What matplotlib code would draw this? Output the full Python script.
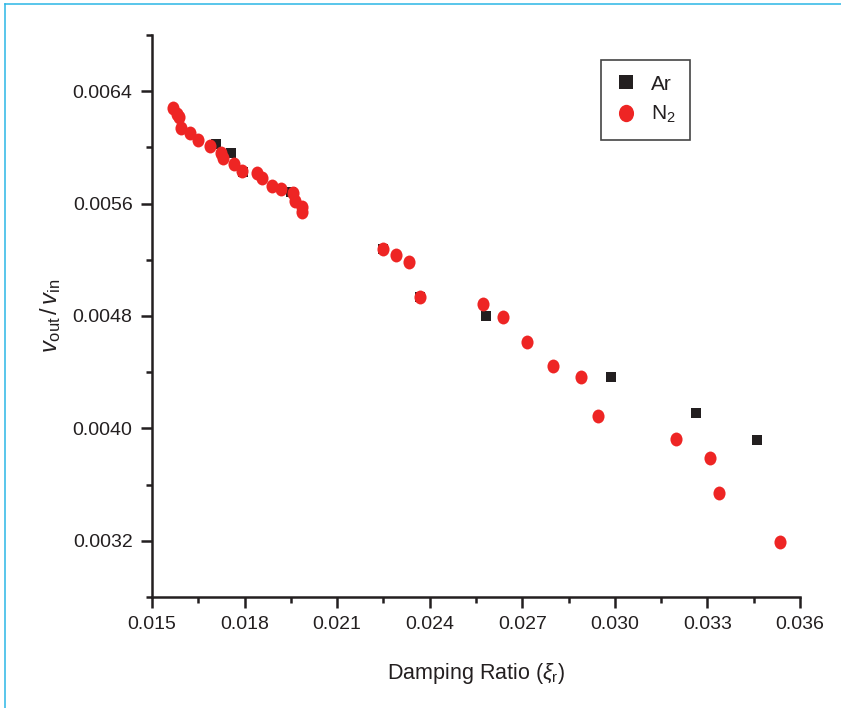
import matplotlib
matplotlib.use('Agg')
import matplotlib.pyplot as plt
from matplotlib.lines import Line2D
from matplotlib.path import Path
from matplotlib.transforms import Affine2D
from matplotlib.ticker import MultipleLocator, FormatStrFormatter

plt.rcParams['font.family'] = ['Liberation Sans', 'DejaVu Sans']
plt.rcParams['mathtext.fontset'] = 'custom'
plt.rcParams['mathtext.rm'] = 'Liberation Sans'
plt.rcParams['mathtext.it'] = 'Liberation Sans:italic'

# damping ratio vs output/input voltage ratio
ar_xi = [0.01706, 0.01757, 0.01795, 0.01951, 0.02247, 0.02368,
         0.02584, 0.02986, 0.03263, 0.03461]
ar_v = [0.006021, 0.005957, 0.005825, 0.005684, 0.005274, 0.004938,
        0.004800, 0.004364, 0.004108, 0.003916]

n2_xi = [0.01567, 0.01580, 0.01589, 0.01595, 0.01624, 0.01649, 0.01689,
         0.01724, 0.01730, 0.01765, 0.01793, 0.01840, 0.01856, 0.01889,
         0.01917, 0.01957, 0.01962, 0.01986, 0.01986, 0.02247, 0.02290,
         0.02332, 0.02368, 0.02573, 0.02636, 0.02716, 0.02798, 0.02891,
         0.02944, 0.03198, 0.03307, 0.03336, 0.03536]
n2_v = [0.006277, 0.006241, 0.006217, 0.006139, 0.006099, 0.006051,
        0.006011, 0.005957, 0.005925, 0.005881, 0.005833, 0.005819,
        0.005779, 0.005726, 0.005703, 0.005672, 0.005620, 0.005573,
        0.005537, 0.005274, 0.005233, 0.005186, 0.004938, 0.004883,
        0.004790, 0.004613, 0.004446, 0.004366, 0.004091, 0.003927,
        0.003788, 0.003539, 0.003195]

ink = '#231F20'
red = '#EE2524'

# slightly tall dot marker
dot = Affine2D().scale(0.87, 1.0).transform_path(Path.unit_circle())

fig = plt.figure(figsize=(8.41, 7.08), dpi=100)
ax = fig.add_axes([152/841, 111/708, 648/841, 562/708])

ax.plot(ar_xi, ar_v, 's', color=ink, markersize=7.8, markeredgewidth=0,
        label='Ar', zorder=2)
ax.plot(n2_xi, n2_v, marker=dot, linestyle='none', color=red,
        markersize=10, markeredgewidth=0, label='N$_2$', zorder=3)

ax.set_xlim(0.015, 0.036)
ax.set_ylim(0.0028, 0.0068)
ax.xaxis.set_major_locator(MultipleLocator(0.003))
ax.xaxis.set_minor_locator(MultipleLocator(0.0015))
ax.yaxis.set_major_locator(MultipleLocator(0.0008))
ax.yaxis.set_minor_locator(MultipleLocator(0.0004))
ax.xaxis.set_major_formatter(FormatStrFormatter('%.3f'))
ax.yaxis.set_major_formatter(FormatStrFormatter('%.4f'))

for side in ['top', 'right']:
    ax.spines[side].set_visible(False)
for side in ['left', 'bottom']:
    ax.spines[side].set_linewidth(1.8)
    ax.spines[side].set_color(ink)

ax.tick_params(which='major', length=8, width=1.8, color=ink,
               labelsize=14, labelcolor=ink, pad=6)
ax.tick_params(which='minor', length=4.5, width=1.8, color=ink)

ax.set_xlabel(r'Damping Ratio ($\xi_{\mathrm{r}}$)', fontsize=15.5,
              color=ink, labelpad=20)
ax.set_ylabel(r'$v_{\mathrm{out}}\,/\,v_{\mathrm{in}}$', fontsize=17,
              color=ink, labelpad=7)

leg = ax.legend(loc='upper left', bbox_to_anchor=(601/841, 1 - 60/708),
                bbox_transform=fig.transFigure, borderaxespad=0,
                fancybox=False, framealpha=1, edgecolor='#444444',
                fontsize=15, handlelength=1.0, handletextpad=0.7,
                labelspacing=0.5, borderpad=0.7, markerscale=1.25)
leg.get_frame().set_linewidth(1.2)
for t in leg.get_texts():
    t.set_color(ink)

# light blue page border on the top and left edges
fig.add_artist(Line2D([4.5/841, 4.5/841], [0, 1 - 3.5/708],
                      transform=fig.transFigure, color='#2BB7E5', lw=1.1))
fig.add_artist(Line2D([4.5/841, 1], [1 - 3.5/708, 1 - 3.5/708],
                      transform=fig.transFigure, color='#2BB7E5', lw=1.1))

fig.savefig('out.png', dpi=100)
